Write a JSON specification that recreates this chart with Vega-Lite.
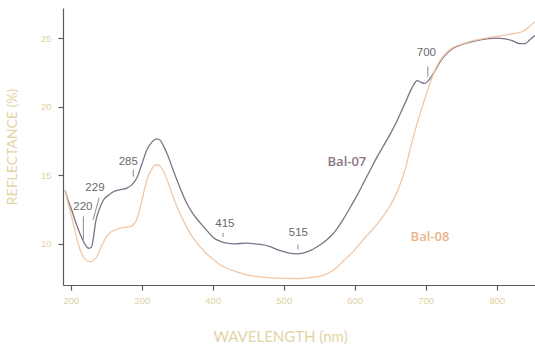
{
  "$schema": "https://vega.github.io/schema/vega-lite/v6.json",
  "width": 472,
  "height": 277,
  "autosize": {"type": "none"},
  "padding": {"left": 63, "top": 8, "right": 0, "bottom": 62},
  "background": "white",
  "config": {
    "view": {"stroke": null},
    "axis": {"grid": false, "domainColor": "#5a5a5a", "tickColor": "#5a5a5a", "domainWidth": 1.2, "tickWidth": 1.2, "tickSize": 5,
             "labelColor": "#e0d2a2", "labelFont": "Liberation Sans", "labelFontSize": 9.5,
             "titleColor": "#e3d4a4", "titleFont": "Lato", "titleFontWeight": "normal", "titleFontSize": 15}
  },
  "datasets": {
    "curves": [
      {"s":"Bal-07","w":192,"r":13.9},{"s":"Bal-07","w":196,"r":13.2},{"s":"Bal-07","w":201,"r":12.5},{"s":"Bal-07","w":206,"r":11.7},
      {"s":"Bal-07","w":211,"r":11.0},{"s":"Bal-07","w":215,"r":10.5},{"s":"Bal-07","w":218,"r":10.15},{"s":"Bal-07","w":222,"r":9.8},
      {"s":"Bal-07","w":225,"r":9.68},{"s":"Bal-07","w":229,"r":9.75},{"s":"Bal-07","w":232,"r":10.5},{"s":"Bal-07","w":235,"r":11.6},
      {"s":"Bal-07","w":240,"r":12.5},{"s":"Bal-07","w":246,"r":13.2},{"s":"Bal-07","w":253,"r":13.55},{"s":"Bal-07","w":260,"r":13.8},
      {"s":"Bal-07","w":270,"r":13.95},{"s":"Bal-07","w":279,"r":14.07},{"s":"Bal-07","w":286,"r":14.3},{"s":"Bal-07","w":293,"r":14.8},
      {"s":"Bal-07","w":300,"r":15.8},{"s":"Bal-07","w":307,"r":16.85},{"s":"Bal-07","w":314,"r":17.4},{"s":"Bal-07","w":321,"r":17.65},
      {"s":"Bal-07","w":326,"r":17.55},{"s":"Bal-07","w":330,"r":17.2},{"s":"Bal-07","w":337,"r":16.4},{"s":"Bal-07","w":344,"r":15.4},
      {"s":"Bal-07","w":353,"r":14.2},{"s":"Bal-07","w":363,"r":13.0},{"s":"Bal-07","w":372,"r":12.2},{"s":"Bal-07","w":382,"r":11.55},
      {"s":"Bal-07","w":392,"r":10.95},{"s":"Bal-07","w":401,"r":10.45},{"s":"Bal-07","w":410,"r":10.2},{"s":"Bal-07","w":420,"r":10.05},
      {"s":"Bal-07","w":430,"r":10.0},{"s":"Bal-07","w":448,"r":10.05},{"s":"Bal-07","w":460,"r":10.0},{"s":"Bal-07","w":470,"r":9.95},
      {"s":"Bal-07","w":481,"r":9.8},{"s":"Bal-07","w":490,"r":9.6},{"s":"Bal-07","w":499,"r":9.45},{"s":"Bal-07","w":510,"r":9.3},
      {"s":"Bal-07","w":518,"r":9.27},{"s":"Bal-07","w":527,"r":9.32},{"s":"Bal-07","w":537,"r":9.5},{"s":"Bal-07","w":546,"r":9.75},
      {"s":"Bal-07","w":556,"r":10.1},{"s":"Bal-07","w":565,"r":10.5},{"s":"Bal-07","w":575,"r":11.1},{"s":"Bal-07","w":584,"r":11.8},
      {"s":"Bal-07","w":593,"r":12.6},{"s":"Bal-07","w":603,"r":13.5},{"s":"Bal-07","w":612,"r":14.4},{"s":"Bal-07","w":621,"r":15.3},
      {"s":"Bal-07","w":630,"r":16.2},{"s":"Bal-07","w":640,"r":17.1},{"s":"Bal-07","w":650,"r":18.0},{"s":"Bal-07","w":659,"r":18.9},
      {"s":"Bal-07","w":666,"r":19.7},{"s":"Bal-07","w":673,"r":20.5},{"s":"Bal-07","w":678,"r":21.1},{"s":"Bal-07","w":683,"r":21.6},
      {"s":"Bal-07","w":688,"r":21.9},{"s":"Bal-07","w":693,"r":21.8},{"s":"Bal-07","w":698,"r":21.7},{"s":"Bal-07","w":703,"r":21.85},
      {"s":"Bal-07","w":708,"r":22.2},{"s":"Bal-07","w":715,"r":22.8},{"s":"Bal-07","w":722,"r":23.4},{"s":"Bal-07","w":730,"r":23.9},
      {"s":"Bal-07","w":740,"r":24.3},{"s":"Bal-07","w":755,"r":24.6},{"s":"Bal-07","w":770,"r":24.8},{"s":"Bal-07","w":786,"r":24.95},
      {"s":"Bal-07","w":800,"r":25.0},{"s":"Bal-07","w":812,"r":24.95},{"s":"Bal-07","w":823,"r":24.8},{"s":"Bal-07","w":832,"r":24.6},
      {"s":"Bal-07","w":840,"r":24.6},{"s":"Bal-07","w":846,"r":24.85},{"s":"Bal-07","w":854,"r":25.2},

      {"s":"Bal-08","w":192,"r":13.9},{"s":"Bal-08","w":196,"r":13.0},{"s":"Bal-08","w":201,"r":12.0},{"s":"Bal-08","w":206,"r":10.9},
      {"s":"Bal-08","w":211,"r":9.9},{"s":"Bal-08","w":216,"r":9.2},{"s":"Bal-08","w":221,"r":8.85},{"s":"Bal-08","w":227,"r":8.7},
      {"s":"Bal-08","w":232,"r":8.8},{"s":"Bal-08","w":237,"r":9.1},{"s":"Bal-08","w":242,"r":9.7},{"s":"Bal-08","w":246,"r":10.1},
      {"s":"Bal-08","w":250,"r":10.5},{"s":"Bal-08","w":255,"r":10.8},{"s":"Bal-08","w":262,"r":11.0},{"s":"Bal-08","w":269,"r":11.15},
      {"s":"Bal-08","w":277,"r":11.2},{"s":"Bal-08","w":284,"r":11.25},{"s":"Bal-08","w":289,"r":11.45},{"s":"Bal-08","w":293,"r":11.8},
      {"s":"Bal-08","w":298,"r":12.7},{"s":"Bal-08","w":303,"r":13.8},{"s":"Bal-08","w":308,"r":14.8},{"s":"Bal-08","w":314,"r":15.45},
      {"s":"Bal-08","w":320,"r":15.77},{"s":"Bal-08","w":325,"r":15.7},{"s":"Bal-08","w":330,"r":15.35},{"s":"Bal-08","w":337,"r":14.5},
      {"s":"Bal-08","w":344,"r":13.45},{"s":"Bal-08","w":353,"r":12.3},{"s":"Bal-08","w":363,"r":11.26},{"s":"Bal-08","w":372,"r":10.45},
      {"s":"Bal-08","w":382,"r":9.8},{"s":"Bal-08","w":391,"r":9.3},{"s":"Bal-08","w":401,"r":8.85},{"s":"Bal-08","w":410,"r":8.5},
      {"s":"Bal-08","w":420,"r":8.22},{"s":"Bal-08","w":434,"r":7.95},{"s":"Bal-08","w":448,"r":7.74},{"s":"Bal-08","w":467,"r":7.6},
      {"s":"Bal-08","w":490,"r":7.5},{"s":"Bal-08","w":520,"r":7.47},{"s":"Bal-08","w":540,"r":7.55},{"s":"Bal-08","w":555,"r":7.7},
      {"s":"Bal-08","w":566,"r":7.95},{"s":"Bal-08","w":575,"r":8.3},{"s":"Bal-08","w":584,"r":8.75},{"s":"Bal-08","w":598,"r":9.45},
      {"s":"Bal-08","w":612,"r":10.3},{"s":"Bal-08","w":626,"r":11.1},{"s":"Bal-08","w":640,"r":12.0},{"s":"Bal-08","w":650,"r":12.8},
      {"s":"Bal-08","w":659,"r":13.7},{"s":"Bal-08","w":665,"r":14.5},{"s":"Bal-08","w":671,"r":15.4},{"s":"Bal-08","w":678,"r":16.9},
      {"s":"Bal-08","w":687,"r":18.6},{"s":"Bal-08","w":697,"r":20.3},{"s":"Bal-08","w":706,"r":21.7},{"s":"Bal-08","w":715,"r":22.9},
      {"s":"Bal-08","w":725,"r":23.7},{"s":"Bal-08","w":735,"r":24.2},{"s":"Bal-08","w":750,"r":24.55},{"s":"Bal-08","w":770,"r":24.85},
      {"s":"Bal-08","w":790,"r":25.05},{"s":"Bal-08","w":809,"r":25.2},{"s":"Bal-08","w":825,"r":25.35},{"s":"Bal-08","w":835,"r":25.45},
      {"s":"Bal-08","w":845,"r":25.8},{"s":"Bal-08","w":854,"r":26.2}
    ],
    "ticks": [
      {"x":217.7,"y":12.0,"x2":217.7,"y2":10.3},
      {"x":240,"y":13.36,"x2":231.4,"y2":11.75},
      {"x":288,"y":15.4,"x2":288,"y2":14.9},
      {"x":414.5,"y":10.8,"x2":414.5,"y2":10.5},
      {"x":520,"y":9.95,"x2":520,"y2":9.6},
      {"x":703,"y":22.94,"x2":703,"y2":22.2}
    ],
    "notes": [
      {"t":"220","x":217,"y":12.7},
      {"t":"229","x":234,"y":14.07},
      {"t":"285","x":281,"y":16.0},
      {"t":"415","x":417,"y":11.46},
      {"t":"515","x":520.6,"y":10.78},
      {"t":"700","x":701,"y":23.9}
    ],
    "names": [
      {"s":"Bal-07","x":589,"y":16.0},
      {"s":"Bal-08","x":706,"y":10.53}
    ]
  },
  "layer": [
    {
      "data": {"name": "curves"},
      "mark": {"type": "line", "strokeWidth": 1.3, "interpolate": "monotone"},
      "encoding": {
        "x": {"field": "w", "type": "quantitative", "scale": {"domain": [189, 854], "nice": false, "zero": false},
              "axis": {"values": [200,250,300,350,400,450,500,550,600,650,700,750,800], "labelExpr": "datum.value % 100 === 0 ? datum.label : ''",
                       "title": "WAVELENGTH (nm)", "labelPadding": 5, "titleX": 217, "titleY": 56, "titleBaseline": "alphabetic", "titleAnchor": "middle", "titleAlign": "center"}},
        "y": {"field": "r", "type": "quantitative", "scale": {"domain": [7.0, 27.2], "nice": false, "zero": false},
              "axis": {"values": [10,15,20,25], "title": "REFLECTANCE (%)", "labelPadding": 7, "titleX": -44, "titleFontSize": 14}},
        "color": {"field": "s", "type": "nominal", "scale": {"domain": ["Bal-07","Bal-08"], "range": ["#7e7288", "#efc7a8"]}, "legend": null},
        "order": {"field": "w", "type": "quantitative"}
      }
    },
    {
      "data": {"name": "ticks"},
      "mark": {"type": "rule", "color": "#8a8a8a", "strokeWidth": 1},
      "encoding": {
        "x": {"field": "x", "type": "quantitative"},
        "x2": {"field": "x2"},
        "y": {"field": "y", "type": "quantitative"},
        "y2": {"field": "y2"}
      }
    },
    {
      "data": {"name": "notes"},
      "mark": {"type": "text", "font": "Liberation Sans", "fontSize": 11.5, "color": "#6a6a6a", "align": "center", "baseline": "middle"},
      "encoding": {
        "x": {"field": "x", "type": "quantitative"},
        "y": {"field": "y", "type": "quantitative"},
        "text": {"field": "t"}
      }
    },
    {
      "data": {"name": "names"},
      "mark": {"type": "text", "font": "Open Sans", "fontSize": 13, "fontWeight": 600, "align": "center", "baseline": "middle"},
      "encoding": {
        "x": {"field": "x", "type": "quantitative"},
        "y": {"field": "y", "type": "quantitative"},
        "text": {"field": "s"},
        "color": {"field": "s", "type": "nominal", "scale": {"domain": ["Bal-07","Bal-08"], "range": ["#8f7488", "#ebb38c"]}, "legend": null}
      }
    }
  ],
  "resolve": {"scale": {"color": "independent"}}
}
